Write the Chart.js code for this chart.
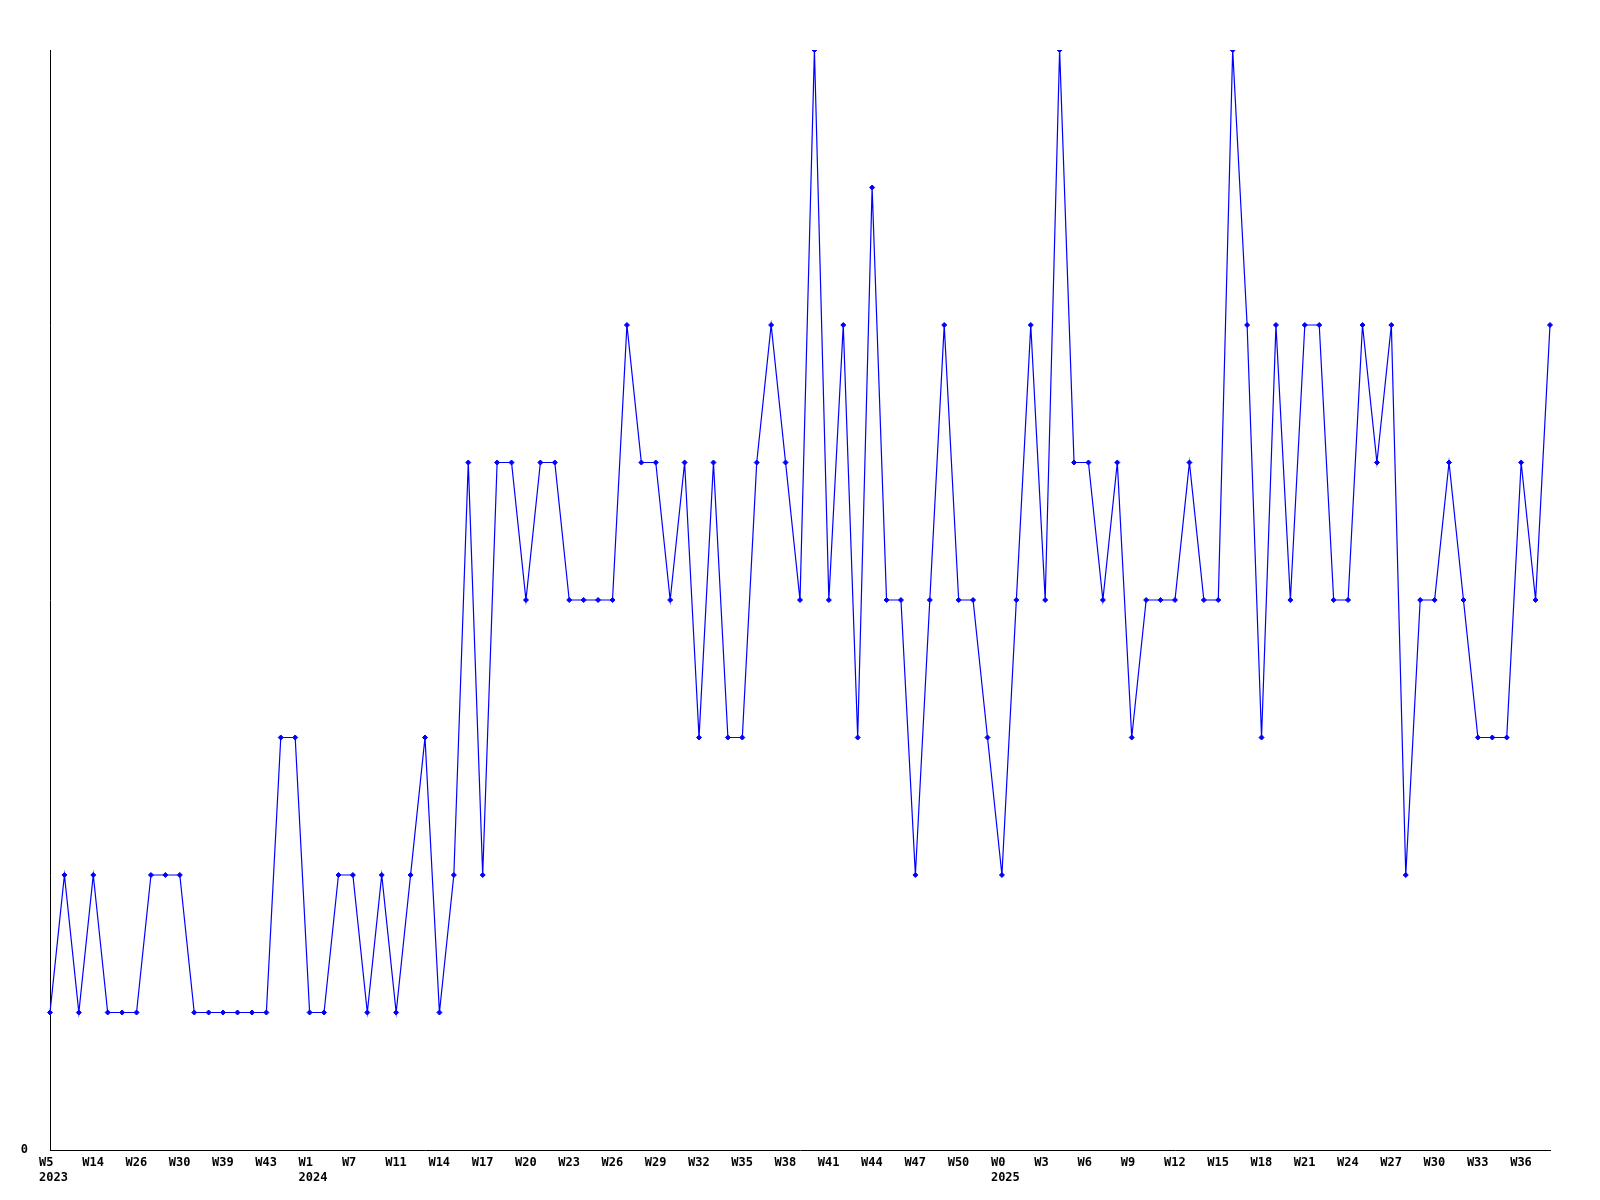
<!DOCTYPE html>
<html>
<head>
<meta charset="utf-8">
<title>Weekly chart</title>
<script src="https://cdn.jsdelivr.net/npm/chart.js@4/dist/chart.umd.min.js"></script>
<style>
  html, body { margin: 0; padding: 0; background: #ffffff; }
  #wrap { width: 1600px; height: 1200px; }
</style>
</head>
<body>
<div id="wrap"><canvas id="weeklyChart" width="1600" height="1200"></canvas></div>
<script>
// --- data ---
// week labels (only every 3rd one is printed on the axis)
const weeks = [
    'W5', 'W8', 'W11', 'W14', 'W18', 'W22', 'W26', 'W27', 'W29', 'W30', 'W33', 'W36',
    'W39', 'W40', 'W42', 'W43', 'W47', 'W50',
    'W1', 'W3', 'W5', 'W7', 'W8', 'W10', 'W11', 'W12', 'W13',
    'W14', 'W15', 'W16', 'W17', 'W18', 'W19', 'W20', 'W21', 'W22', 'W23', 'W24', 'W25',
    'W26', 'W27', 'W28', 'W29', 'W30', 'W31', 'W32', 'W33', 'W34', 'W35', 'W36', 'W37',
    'W38', 'W39', 'W40', 'W41', 'W42', 'W43', 'W44', 'W45', 'W46', 'W47', 'W48', 'W49',
    'W50', 'W51', 'W52',
    'W0', 'W1', 'W2', 'W3', 'W4', 'W5', 'W6', 'W7', 'W8', 'W9', 'W10', 'W11',
    'W12', 'W13', 'W14', 'W15', 'W16', 'W17', 'W18', 'W19', 'W20', 'W21', 'W22', 'W23',
    'W24', 'W25', 'W26', 'W27', 'W28', 'W29', 'W30', 'W31', 'W32', 'W33', 'W34', 'W35',
    'W36', 'W37', 'W38'
];
// index of first week of each year -> year printed under it
const yearStarts = { 0: '2023', 18: '2024', 66: '2025' };

const counts = [
    1, 2, 1, 2, 1, 1, 1, 2, 2, 2, 1, 1, 1, 1, 1, 1, 3, 3,
    1, 1, 2, 2, 1, 2, 1, 2, 3, 1, 2, 5, 2, 5, 5, 4, 5, 5,
    4, 4, 4, 4, 6, 5, 5, 4, 5, 3, 5, 3, 3, 5, 6, 5, 4, 8,
    4, 6, 3, 7, 4, 4, 2, 4, 6, 4, 4, 3, 2, 4, 6, 4, 8, 5,
    5, 4, 5, 3, 4, 4, 4, 5, 4, 4, 8, 6, 3, 6, 4, 6, 6, 4,
    4, 6, 5, 6, 2, 4, 4, 5, 4, 3, 3, 3, 5, 4, 6
];

const yMin = 0;
const yMax = 8;

const labels = weeks.map((w, i) => yearStarts[i] ? [w, yearStarts[i]] : w);

const tickFont = { family: "'DejaVu Sans Mono', monospace", size: 12, weight: 'bold', lineHeight: 1.25 };

new Chart(document.getElementById('weeklyChart').getContext('2d'), {
    type: 'line',
    data: {
        labels: labels,
        datasets: [{
            data: counts,
            borderColor: '#0000ff',
            backgroundColor: '#0000ff',
            borderWidth: 1.2,
            pointRadius: 2.5,
            pointBorderWidth: 1,
            pointStyle: 'rectRot',
            tension: 0,
            fill: false
        }]
    },
    options: {
        responsive: false,
        animation: false,
        devicePixelRatio: 1,
        layout: { padding: { top: 50, right: 50, left: 0, bottom: 0 } },
        plugins: { legend: { display: false }, tooltip: { enabled: false } },
        scales: {
            x: {
                offset: false,
                grid: { display: false, drawTicks: false },
                border: { display: true, color: '#000000', width: 1 },
                ticks: {
                    autoSkip: false,
                    maxRotation: 0,
                    minRotation: 0,
                    align: 'start',
                    labelOffset: -11,
                    padding: 5,
                    color: '#000000',
                    font: tickFont,
                    callback: function (val, i) {
                        return i % 3 === 0 ? labels[i] : '';
                    }
                },
                afterFit: function (scale) { scale.height = 50; }
            },
            y: {
                min: yMin,
                max: yMax,
                grid: { display: false, drawTicks: false },
                border: { display: true, color: '#000000', width: 1 },
                ticks: {
                    stepSize: 1,
                    padding: 22,
                    color: '#000000',
                    font: tickFont,
                    callback: function (v) { return v === 0 ? '0' : ''; }
                },
                afterFit: function (scale) { scale.width = 50; }
            }
        }
    }
});
</script>
</body>
</html>
